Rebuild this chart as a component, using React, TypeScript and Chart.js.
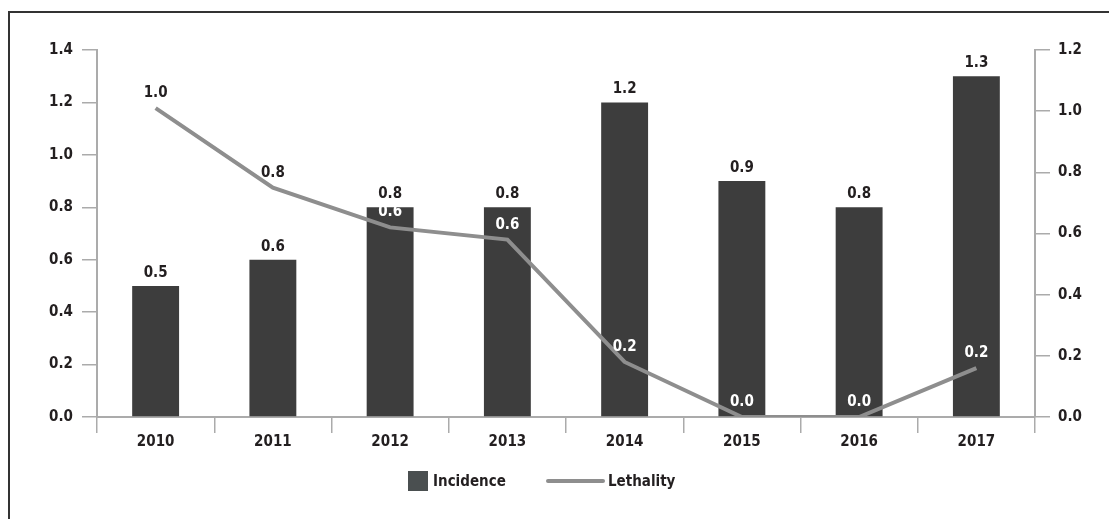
import React, { useEffect, useRef } from "react";
import { Chart, registerables } from "chart.js";

Chart.register(...registerables);

const years = ["2010", "2011", "2012", "2013", "2014", "2015", "2016", "2017"];
const incidence = [0.5, 0.6, 0.8, 0.8, 1.2, 0.9, 0.8, 1.3];
const lethality = [1.01, 0.75, 0.62, 0.58, 0.18, 0.0, 0.0, 0.16];
const leftTicks = { min: 0, max: 1.4, step: 0.2 };
const rightTicks = { min: 0, max: 1.2, step: 0.2 };
const seriesNames = ["Incidence", "Lethality"];

const FONT = "'Liberation Sans Narrow', 'DejaVu Sans Condensed', 'Roboto Condensed', sans-serif";
const TEXT = "#231f20";
const BAR = "#3d3d3d";
const LINE = "#8e8e8e";
const AXIS = "#ababab";

const labelPlugin = {
  id: "valueLabels",
  afterDatasetsDraw(chart: any) {
    const ctx = chart.ctx;
    ctx.save();
    ctx.font = `bold 15px ${FONT}`;
    ctx.textAlign = "center";
    ctx.textBaseline = "middle";
    const barMeta = chart.getDatasetMeta(0);
    const lineMeta = chart.getDatasetMeta(1);
    barMeta.data.forEach((el: any, i: number) => {
      ctx.fillStyle = TEXT;
      ctx.fillText(incidence[i].toFixed(1), el.x, el.y - 13);
    });
    lineMeta.data.forEach((pt: any, i: number) => {
      const bar = barMeta.data[i];
      const ly = pt.y - 15;
      ctx.fillStyle = ly > bar.y ? "#ffffff" : TEXT;
      ctx.fillText(lethality[i].toFixed(1), pt.x, ly);
    });
    ctx.restore();
  },
};

const legendPlugin = {
  id: "customLegend",
  afterDraw(chart: any) {
    const ctx = chart.ctx;
    ctx.save();
    const y = 481;
    ctx.font = `bold 15px ${FONT}`;
    ctx.textBaseline = "middle";
    ctx.textAlign = "left";
    ctx.fillStyle = "#4a4f50";
    ctx.fillRect(408, y - 10, 20, 20);
    ctx.fillStyle = TEXT;
    ctx.fillText(seriesNames[0], 433, y + 1);
    ctx.strokeStyle = LINE;
    ctx.lineWidth = 4;
    ctx.lineCap = "round";
    ctx.beginPath();
    ctx.moveTo(548, y);
    ctx.lineTo(603, y);
    ctx.stroke();
    ctx.fillText(seriesNames[1], 608, y + 1);
    ctx.restore();
  },
};

export default function App() {
  const ref = useRef<HTMLCanvasElement | null>(null);
  useEffect(() => {
    if (!ref.current) return;
    const tickFont = { family: FONT, size: 15, weight: "bold" as const };
    const chart = new Chart(ref.current, {
      type: "bar",
      data: {
        labels: years,
        datasets: [
          {
            type: "bar",
            label: seriesNames[0],
            data: incidence,
            backgroundColor: BAR,
            categoryPercentage: 0.8,
            barPercentage: 0.5,
            yAxisID: "y",
            order: 2,
          },
          {
            type: "line",
            label: seriesNames[1],
            data: lethality,
            borderColor: LINE,
            borderWidth: 4,
            pointRadius: 0,
            fill: false,
            tension: 0,
            yAxisID: "y1",
            order: 1,
          } as any,
        ],
      },
      options: {
        responsive: false,
        animation: false,
        layout: { padding: { top: 50, bottom: 42, left: 0, right: 0 } },
        plugins: { legend: { display: false }, tooltip: { enabled: false } },
        scales: {
          x: {
            offset: true,
            grid: { offset: true, drawOnChartArea: false, tickLength: 16, color: AXIS, lineWidth: 1.5 },
            border: { color: AXIS, width: 2 },
            ticks: { font: tickFont, color: TEXT, padding: 0, maxRotation: 0 },
            afterFit(scale: any) {
              scale.height = 60;
            },
          },
          y: {
            position: "left",
            min: leftTicks.min,
            max: leftTicks.max,
            ticks: {
              stepSize: leftTicks.step,
              font: tickFont,
              color: TEXT,
              padding: 9,
              callback: (v: any) => Number(v).toFixed(1),
            },
            grid: { drawOnChartArea: false, tickLength: 15, color: AXIS, lineWidth: 1.5 },
            border: { color: AXIS, width: 2 },
            afterFit(scale: any) {
              scale.width = 97;
            },
          },
          y1: {
            position: "right",
            min: rightTicks.min,
            max: rightTicks.max,
            ticks: {
              stepSize: rightTicks.step,
              font: tickFont,
              color: TEXT,
              padding: 8,
              callback: (v: any) => Number(v).toFixed(1),
            },
            grid: { drawOnChartArea: false, tickLength: 15, color: AXIS, lineWidth: 1.5 },
            border: { color: AXIS, width: 2 },
            afterFit(scale: any) {
              scale.width = 74;
            },
          },
        },
      },
      plugins: [labelPlugin, legendPlugin],
    });
    return () => chart.destroy();
  }, []);

  return (
    <div>
      <canvas
        ref={ref}
        width={1109}
        height={519}
        style={{ position: "fixed", left: 0, top: 0, width: 1109, height: 519, display: "block" }}
      />
      <div
        style={{
          position: "fixed",
          left: 8,
          top: 11,
          width: 1200,
          height: 600,
          borderLeft: "2px solid #333",
          borderTop: "2px solid #333",
          pointerEvents: "none",
        }}
      />
    </div>
  );
}
